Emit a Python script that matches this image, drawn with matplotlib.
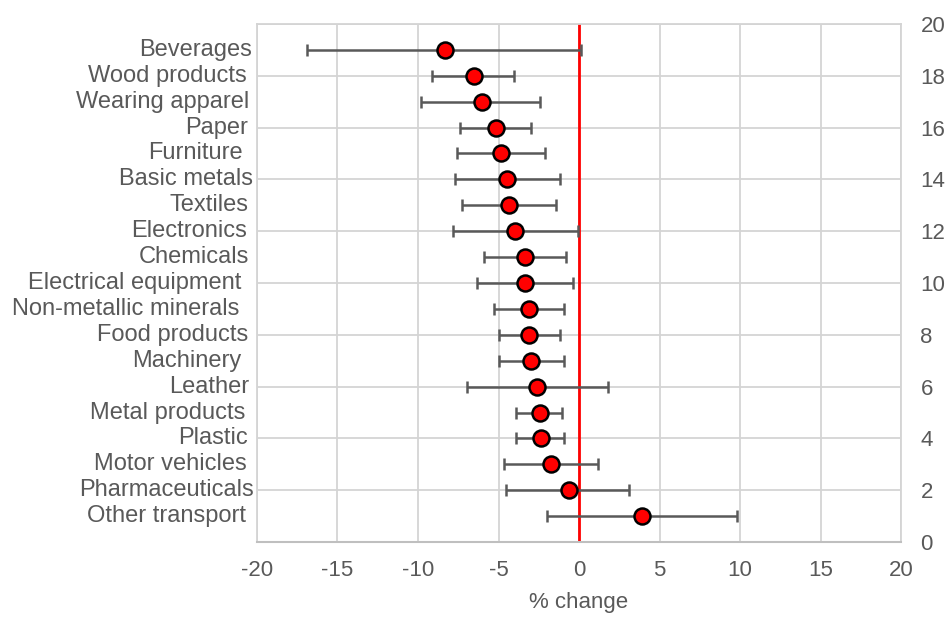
import matplotlib
matplotlib.use('Agg')
import matplotlib.pyplot as plt
import numpy as np

plt.rcParams['font.family'] = ['Liberation Sans', 'DejaVu Sans']
plt.rcParams['axes.unicode_minus'] = False

# data, top to bottom
sectors = ['Beverages', 'Wood products', 'Wearing apparel', 'Paper', 'Furniture',
           'Basic metals', 'Textiles', 'Electronics', 'Chemicals', 'Electrical equipment',
           'Non-metallic minerals', 'Food products', 'Machinery', 'Leather', 'Metal products',
           'Plastic', 'Motor vehicles', 'Pharmaceuticals', 'Other transport']
estimate = [-8.3, -6.5, -6.0, -5.15, -4.85, -4.45, -4.35, -4.0, -3.35, -3.35,
            -3.1, -3.1, -3.0, -2.6, -2.4, -2.35, -1.75, -0.65, 3.9]
lower = [-16.9, -9.1, -9.8, -7.4, -7.55, -7.7, -7.25, -7.8, -5.9, -6.35,
         -5.3, -5.0, -5.0, -6.95, -3.9, -3.9, -4.65, -4.55, -2.0]
upper = [0.1, -4.05, -2.4, -3.0, -2.1, -1.2, -1.4, -0.05, -0.8, -0.35,
         -0.95, -1.2, -0.95, 1.8, -1.05, -0.95, 1.2, 3.1, 9.8]
ypos = [19, 18, 17, 16, 15, 14, 13, 12, 11, 10, 9, 8, 7, 6, 5, 4, 3, 2, 1]

# label right-edge gap from the plot (pixels), mimics the ragged excel labels
label_gap = [5, 10, 8, 9, 14, 4, 8, 10, 8, 16, 18, 9, 16, 8, 12, 9, 10, 3, 11]

est = np.array(estimate)
xerr = np.vstack([est - np.array(lower), np.array(upper) - est])

fig = plt.figure(figsize=(9.49, 6.17), dpi=100)
ax = fig.add_axes([257/949, 1 - 542/617, (901-257)/949, (542-24)/617])

grey = '#595959'
gridc = '#d4d4d4'

ax.set_xlim(-20, 20)
ax.set_ylim(0, 20)
ax.set_xticks(np.arange(-20, 21, 5))
ax.set_yticks(np.arange(0, 21, 2))
ax.grid(True, color=gridc, lw=1.3, zorder=0)
ax.set_axisbelow(True)
for s in ['left', 'right', 'top']:
    ax.spines[s].set_color(gridc)
    ax.spines[s].set_linewidth(1.3)
ax.spines['bottom'].set_color('#bfbfbf')
ax.spines['bottom'].set_linewidth(1.5)

ax.yaxis.tick_right()
ax.tick_params(axis='y', length=0, pad=14, labelsize=16, labelcolor=grey)
ax.tick_params(axis='x', length=0, pad=13, labelsize=16, labelcolor=grey)
ax.set_xlabel('% change', fontsize=16, color=grey, labelpad=8)

ax.axvline(0, color='#ff0000', lw=2, zorder=2)

ax.errorbar(est, ypos, xerr=xerr, fmt='o', color='#595959', ecolor='#595959',
            elinewidth=1.8, capsize=4.5, capthick=1.8, markersize=11.5,
            markerfacecolor='#ff0000', markeredgecolor='black', markeredgewidth=1.8,
            zorder=3)

for name, y, g in zip(sectors, ypos, label_gap):
    ax.annotate(name, xy=(0, y), xycoords=('axes fraction', 'data'),
                xytext=(-g * 0.72, 0), textcoords='offset points',
                ha='right', va='center', fontsize=17, color=grey)

fig.savefig('out.png', dpi=100)
